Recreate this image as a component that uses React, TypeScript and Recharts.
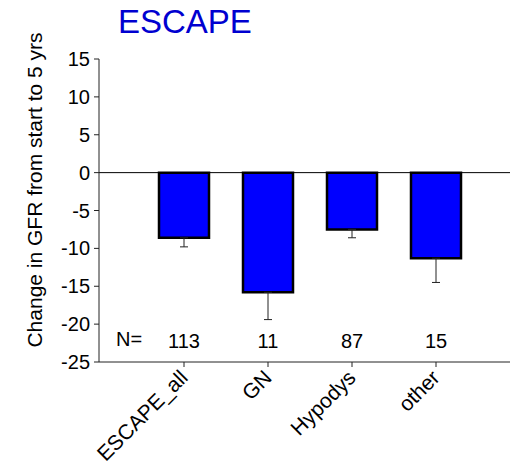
import { ComposedChart, Bar, ErrorBar, XAxis, YAxis, ReferenceLine, ReferenceDot, Customized } from 'recharts';

const groups = ['ESCAPE_all', 'GN', 'Hypodys', 'other'];
const gfrChange = [-8.6, -15.8, -7.5, -11.3];
const gfrSem = [1.2, 3.6, 1.1, 3.2];
const patientCounts = [113, 11, 87, 15];
const yTicks = [-25, -20, -15, -10, -5, 0, 5, 10, 15];
const nRowValue = -22.2;

const FONT = '"Liberation Sans", Arial, sans-serif';

const chartData = groups.map((name, i) => ({
  name,
  change: gfrChange[i],
  // one-sided error bar: only below the mean
  err: [gfrSem[i], 0],
}));

function AngledTick({ x, y, payload }: any) {
  return (
    <g transform={`translate(${x + 5},${y + 10})`}>
      <text textAnchor="end" transform="rotate(-45)" fontSize={21} fontFamily={FONT} fill="#000">
        {payload.value}
      </text>
    </g>
  );
}

export default function App() {
  return (
    <div style={{ position: 'absolute', left: 0, top: 0, width: 510, height: 465, overflow: 'hidden', background: '#fff' }}>
      <ComposedChart width={510} height={465} data={chartData} margin={{ top: 59, right: 0, left: 39, bottom: 0 }}>
        <XAxis
          dataKey="name"
          height={103}
          interval={0}
          padding={{ left: 43, right: 32 }}
          tick={<AngledTick />}
          tickSize={5}
          axisLine={{ stroke: '#222' }}
          tickLine={{ stroke: '#222' }}
        />
        <YAxis
          domain={[-25, 15]}
          ticks={yTicks}
          width={60}
          tickSize={5}
          tickMargin={4}
          interval={0}
          tick={{ fontSize: 20, fontFamily: FONT, fill: '#000' }}
          axisLine={{ stroke: '#222' }}
          tickLine={{ stroke: '#222' }}
        />
        <ReferenceLine y={0} stroke="#000" strokeWidth={1} />
        <Bar dataKey="change" fill="#0000ff" stroke="#000" strokeWidth={2.5} barSize={50} isAnimationActive={false}>
          <ErrorBar dataKey="err" direction="y" width={4} stroke="#222" strokeWidth={1} />
        </Bar>
        {groups.map((g, i) => (
          <ReferenceDot
            key={g}
            x={g}
            y={nRowValue}
            r={0}
            stroke="none"
            fill="none"
            label={{ value: String(patientCounts[i]), position: 'center', fontSize: 20, fontFamily: FONT, fill: '#000' }}
          />
        ))}
        <Customized
          component={() => (
            <g fontFamily={FONT}>
              <text x={118} y={33} fontSize={33} fill="#0000d0">ESCAPE</text>
              <text x={42} y={190} fontSize={21} fill="#000" textAnchor="middle" transform="rotate(-90, 42, 190)">
                Change in GFR from start to 5 yrs
              </text>
              <text x={129} y={346} fontSize={20} fill="#000" textAnchor="middle">N=</text>
            </g>
          )}
        />
      </ComposedChart>
    </div>
  );
}
